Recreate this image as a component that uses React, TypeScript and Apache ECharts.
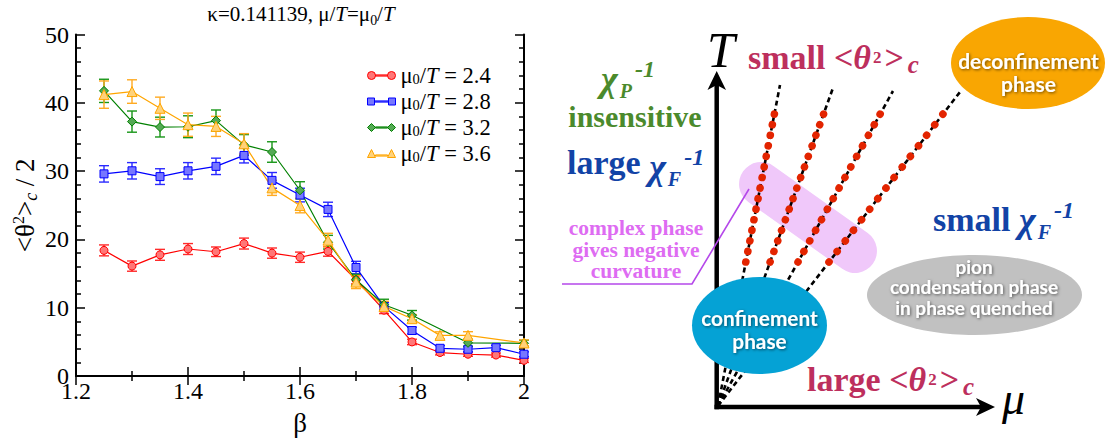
import React, { useEffect, useRef } from 'react';
import * as echarts from 'echarts';

// ---------- left panel data ----------
const betas = [1.25, 1.3, 1.35, 1.4, 1.45, 1.5, 1.55, 1.6, 1.65, 1.7, 1.75, 1.8, 1.85, 1.9, 1.95, 2.0];
const red = [18.4, 16.1, 17.75, 18.6, 18.2, 19.4, 18.0, 17.4, 18.25, 14.1, 9.65, 5.0, 3.45, 3.2, 3.08, 2.3];
const redErr = [0.8, 0.75, 0.8, 0.8, 0.7, 0.8, 0.75, 0.75, 0.7, 0.6, 0.5, 0.4, 0.35, 0.3, 0.3, 0.3];
const blue = [29.6, 30.05, 29.2, 30.05, 30.7, 32.3, 28.65, 26.5, 24.4, 15.9, 10.2, 6.67, 4.07, 3.93, 4.16, 3.2];
const blueErr = [1.2, 1.2, 1.15, 1.2, 1.2, 1.1, 1.15, 1.0, 1.05, 0.9, 0.6, 0.5, 0.4, 0.35, 0.35, 0.35];
const green = [41.75, 37.25, 36.45, 36.5, 37.4, 33.85, 32.8, 27.2, 19.6, 14.1, 10.45, 8.9, null, 4.87, null, 4.8];
const greenErr = [1.7, 1.55, 1.45, 1.6, 1.55, 1.5, 1.5, 1.25, 1.0, 0.8, 0.8, 0.7, null, 0.5, null, 0.45];
const orange = [41.2, 41.65, 39.2, 36.8, 36.55, 34.0, 27.55, 24.96, 19.9, 13.76, 10.2, 8.4, 5.96, 5.96, null, 4.85];
const orangeErr = [2.0, 1.72, 1.63, 1.7, 1.47, 1.49, 1.1, 1.06, 1.0, 0.95, 0.75, 0.6, 0.52, 0.54, null, 0.45];
const seriesNames = ['2.4', '2.8', '3.2', '3.6'];

// ---------- right panel (schematic) data, in a pixel-like coordinate grid ----------
const fanOrigin = [1, 0];
const fanTops = [[63, 321], [116, 318], [176, 315], [243, 314]];
const dotStarts = [[28.8, 144], [53.1, 144], [81, 144], [112, 144]];
const dotEnds = [[57.4, 292], [106.6, 292], [163.2, 292], [226, 292]];
const dotsPerLine = 15;

const SERIF = "'Liberation Serif', 'Times New Roman', serif";
const SANS = "Lato, 'Open Sans', sans-serif";

function errSeries(vals: (number | null)[], errs: (number | null)[], color: string) {
  const data: number[][] = [];
  betas.forEach((b, i) => {
    if (vals[i] != null) data.push([b, vals[i] as number, errs[i] as number]);
  });
  return {
    type: 'custom',
    xAxisIndex: 0,
    yAxisIndex: 0,
    silent: true,
    z: 3,
    data,
    encode: { x: 0, y: 1 },
    renderItem: (_p: any, api: any) => {
      const x = api.value(0), y = api.value(1), e = api.value(2);
      const p1 = api.coord([x, y + e]);
      const p2 = api.coord([x, y - e]);
      const hw = 5;
      const st = { stroke: color, lineWidth: 1.4 };
      return {
        type: 'group',
        children: [
          { type: 'line', shape: { x1: p1[0], y1: p1[1], x2: p2[0], y2: p2[1] }, style: st },
          { type: 'line', shape: { x1: p1[0] - hw, y1: p1[1], x2: p1[0] + hw, y2: p1[1] }, style: st },
          { type: 'line', shape: { x1: p2[0] - hw, y1: p2[1], x2: p2[0] + hw, y2: p2[1] }, style: st },
        ],
      };
    },
  };
}

function lineSeries(name: string, vals: (number | null)[], color: string, fill: string, symbol: string, size: number) {
  const data: number[][] = [];
  betas.forEach((b, i) => {
    if (vals[i] != null) data.push([b, vals[i] as number]);
  });
  return {
    type: 'line',
    name,
    xAxisIndex: 0,
    yAxisIndex: 0,
    z: 4,
    data,
    symbol,
    symbolSize: size,
    showAllSymbol: true,
    itemStyle: { color: fill, borderColor: color, borderWidth: 1 },
    lineStyle: { color, width: 1.2 },
  };
}

function axisCommon() {
  return {
    axisLine: { lineStyle: { color: '#000', width: 2 } },
    axisTick: { inside: true, length: 9, lineStyle: { color: '#000', width: 1.5 } },
    minorTick: { show: true, length: 5, lineStyle: { color: '#000', width: 1.5 } },
    splitLine: { show: false },
    minorSplitLine: { show: false },
  };
}

const legendIcons = {
  circle: 'path://M0,4a4,4 0 1,0 8,0a4,4 0 1,0 -8,0z M8,3.4h12v1.2h-12z M20,4a4,4 0 1,0 8,0a4,4 0 1,0 -8,0z',
  rect: 'path://M0,0.5h7v7h-7z M7,3.4h14v1.2h-14z M21,0.5h7v7h-7z',
  diamond: 'path://M0,4L4,0L8,4L4,8z M8,3.4h12v1.2h-12z M20,4L24,0L28,4L24,8z',
  triangle: 'path://M0,8L4,0L8,8z M8,5.4h12v1.2h-12z M20,8L24,0L28,8z',
};

function buildOption() {
  const GREEN = '#4b8a2c', BLUE = '#1243a6', CRIM = '#bd2f5d', PINK = '#de6cf2';
  const t = (text: string, x: number, y: number, size: number, fill: string, extra: any = {}) => ({
    type: 'text', x, y, z: 60, silent: true,
    style: { text, fill, fontFamily: SERIF, fontSize: size, fontWeight: 'bold', align: 'left', verticalAlign: 'middle', ...extra },
  });
  // chi with sub / superscript, built as one rich text
  const chiRich = (text: string, x: number, y: number, fill: string) => ({
    type: 'text', x, y, z: 60, silent: true,
    style: {
      text, fill, fontFamily: SERIF, fontSize: 34, fontWeight: 'bold', lineHeight: 44,
      align: 'left', verticalAlign: 'middle',
      rich: {
        up: { fontFamily: SERIF, fontSize: 34, fontWeight: 'bold', lineHeight: 37, verticalAlign: 'top' },
        chi: { fontFamily: SERIF, fontSize: 36, fontWeight: 'bold', fontStyle: 'italic', lineHeight: 44, padding: [0, 2, 0, 0] },
        sub: { fontFamily: SERIF, fontSize: 20, fontWeight: 'bold', fontStyle: 'italic', lineHeight: 26, verticalAlign: 'bottom', padding: [0, 3, 0, 0] },
        sup: { fontFamily: SERIF, fontSize: 24, fontWeight: 'bold', fontStyle: 'italic', lineHeight: 22, verticalAlign: 'top' },
      },
    },
  });
  const thetaRich = (text: string, x: number, y: number) => ({
    type: 'text', x, y, z: 60, silent: true,
    style: {
      text, fill: CRIM, fontFamily: SERIF, fontSize: 34, fontWeight: 'bold', lineHeight: 40,
      align: 'left', verticalAlign: 'middle',
      rich: {
        th: { fontFamily: SERIF, fontSize: 34, fontWeight: 'bold', fontStyle: 'italic', lineHeight: 40, padding: [0, 2, 0, 0] },
        two: { fontFamily: SERIF, fontSize: 17, fontWeight: 'bold', lineHeight: 40, padding: [0, 3, 0, 0] },
        c: { fontFamily: SERIF, fontSize: 25, fontWeight: 'bold', fontStyle: 'italic', lineHeight: 28, verticalAlign: 'bottom', padding: [0, 0, 0, 4] },
      },
    },
  });
  const w = (text: string, x: number, y: number, size: number, lh: number) => ({
    type: 'text', x, y, z: 61, silent: true,
    style: {
      text, fill: '#fff', fontFamily: SANS, fontWeight: 'bold', fontSize: size, lineHeight: lh,
      align: 'center', verticalAlign: 'middle',
      textShadowColor: 'rgba(0,0,0,0.55)', textShadowBlur: 3, textShadowOffsetX: 1, textShadowOffsetY: 1,
    },
  });

  const fanSeries = fanTops.map((top) => ({
    type: 'line', xAxisIndex: 2, yAxisIndex: 2, silent: true, z: 2, symbol: 'none',
    data: [fanOrigin, top],
    lineStyle: { color: '#000', width: 2.6, type: [5, 3.5] },
  }));
  const dotSeries = dotStarts.map((s, i) => {
    const e = dotEnds[i];
    const gap = (Math.hypot(e[0] - s[0], e[1] - s[1]) / (dotsPerLine - 1)) * 0.999;
    return {
      type: 'line', xAxisIndex: 2, yAxisIndex: 2, silent: true, z: 3, symbol: 'none',
      data: [s, e],
      lineStyle: { color: '#e32400', width: 7.6, type: [0.01, gap - 0.01], cap: 'round' },
    };
  });

  return {
    animation: false,
    backgroundColor: '#fff',
    legend: {
      orient: 'vertical', left: 362, top: 59, itemWidth: 28, itemHeight: 9, itemGap: 3,
      selectedMode: false,
      data: [
        { name: '2.4', icon: legendIcons.circle, itemStyle: { color: '#ff7777', borderColor: '#ff0000', borderWidth: 1 } },
        { name: '2.8', icon: legendIcons.rect, itemStyle: { color: '#7777ff', borderColor: '#0000ff', borderWidth: 1 } },
        { name: '3.2', icon: legendIcons.diamond, itemStyle: { color: '#55aa55', borderColor: '#008000', borderWidth: 1 } },
        { name: '3.6', icon: legendIcons.triangle, itemStyle: { color: '#ffd27a', borderColor: '#ffa500', borderWidth: 1 } },
      ],
      formatter: (name: string) => `μ{sub|0}/{i|T} = ${name}`,
      textStyle: {
        fontFamily: SERIF, fontSize: 22.5, color: '#000', lineHeight: 22,
        rich: {
          i: { fontStyle: 'italic', fontFamily: SERIF, fontSize: 22.5, lineHeight: 22 },
          sub: { fontFamily: SERIF, fontSize: 14.5, lineHeight: 12, verticalAlign: 'bottom' },
        },
      },
    },
    grid: [
      { left: 76, right: 587, top: 34.5, bottom: 56 },
      { left: 717, right: 0, top: 0, bottom: 37 },
    ],
    xAxis: [
      {
        type: 'value', gridIndex: 0, position: 'bottom', min: 1.2, max: 2.0, interval: 0.2,
        ...axisCommon(),
        minorTick: { ...axisCommon().minorTick, splitNumber: 2 },
        axisLabel: { color: '#000', fontFamily: SERIF, fontSize: 24, margin: 3 },
        name: 'β', nameLocation: 'middle', nameGap: 23,
        nameTextStyle: { fontFamily: SERIF, fontSize: 27, color: '#000', lineHeight: 30 },
      },
      {
        type: 'value', gridIndex: 0, position: 'top', min: 1.2, max: 2.0, interval: 0.2,
        ...axisCommon(),
        minorTick: { ...axisCommon().minorTick, splitNumber: 2 },
        axisLabel: { show: false },
      },
      { type: 'value', gridIndex: 1, min: 0, max: 394, show: false },
    ],
    yAxis: [
      {
        type: 'value', gridIndex: 0, position: 'left', min: 0, max: 50, interval: 10,
        ...axisCommon(),
        minorTick: { ...axisCommon().minorTick, splitNumber: 5 },
        axisLabel: { color: '#000', fontFamily: SERIF, fontSize: 24, margin: 7 },
        name: '<θ{sup|2}>{sub|c} / 2', nameLocation: 'middle', nameRotate: 90, nameGap: 36,
        nameTextStyle: {
          fontFamily: SERIF, fontSize: 27, color: '#000', lineHeight: 30,
          rich: {
            sup: { fontFamily: SERIF, fontSize: 16, lineHeight: 14, verticalAlign: 'top' },
            sub: { fontFamily: SERIF, fontSize: 18, fontStyle: 'italic', lineHeight: 14, verticalAlign: 'bottom' },
          },
        },
      },
      {
        type: 'value', gridIndex: 0, position: 'right', min: 0, max: 50, interval: 10,
        ...axisCommon(),
        minorTick: { ...axisCommon().minorTick, splitNumber: 5 },
        axisLabel: { show: false },
      },
      { type: 'value', gridIndex: 1, min: 0, max: 406, show: false },
    ],
    series: [
      errSeries(red, redErr, '#ff2a2a'),
      lineSeries(seriesNames[0], red, '#ff0000', '#ff7777', 'circle', 8),
      errSeries(blue, blueErr, '#2a2aff'),
      lineSeries(seriesNames[1], blue, '#0000ff', '#7777ff', 'rect', 8),
      errSeries(green, greenErr, '#189618'),
      lineSeries(seriesNames[2], green, '#008000', '#55aa55', 'diamond', 9),
      errSeries(orange, orangeErr, '#ffaa22'),
      lineSeries(seriesNames[3], orange, '#ffa500', '#ffd27a', 'triangle', 10),
      ...fanSeries,
      ...dotSeries,
    ],
    graphic: [
      // title of the left panel
      {
        type: 'text', x: 301, y: 14, z: 60, silent: true,
        style: {
          text: 'κ=0.141139, μ/{i|T}=μ{sub|0}/{i|T}',
          fill: '#000', fontFamily: SERIF, fontSize: 21, lineHeight: 26, align: 'center', verticalAlign: 'middle',
          rich: {
            i: { fontStyle: 'italic', fontFamily: SERIF, fontSize: 21, lineHeight: 26 },
            sub: { fontFamily: SERIF, fontSize: 14, lineHeight: 15, verticalAlign: 'bottom' },
          },
        },
      },
      // pink band
      {
        type: 'rect', x: 808, y: 217.5, rotation: -0.619, z: 1, silent: true,
        shape: { x: -79.7, y: -22, width: 159.4, height: 44, r: 22 },
        style: { fill: '#f0c8fa' },
      },
      // axes
      { type: 'line', z: 4, silent: true, shape: { x1: 716.7, y1: 84, x2: 716.7, y2: 409.2 }, style: { stroke: '#000', lineWidth: 4.5 } },
      { type: 'polygon', z: 4, silent: true, shape: { points: [[716.7, 71], [707.5, 90], [716.7, 85], [726, 90]] }, style: { fill: '#000' } },
      { type: 'line', z: 4, silent: true, shape: { x1: 714.5, y1: 407, x2: 983, y2: 407 }, style: { stroke: '#000', lineWidth: 4.5 } },
      { type: 'polygon', z: 4, silent: true, shape: { points: [[995, 407], [976, 398], [981, 407], [976, 416]] }, style: { fill: '#000' } },
      // purple pointer
      { type: 'polyline', z: 5, silent: true, shape: { points: [[562, 284], [692, 284], [749, 189]] }, style: { stroke: '#b548ea', lineWidth: 1.6, fill: 'none' } },
      // ellipses
      { type: 'ellipse', z: 50, silent: true, shape: { cx: 1028, cy: 63, rx: 77, ry: 46 }, style: { fill: '#f9a602' } },
      { type: 'ellipse', z: 50, silent: true, shape: { cx: 759.5, cy: 325.5, rx: 67.5, ry: 48.5 }, style: { fill: '#05a2d5' } },
      { type: 'ellipse', z: 50, silent: true, shape: { cx: 974.5, cy: 295, rx: 107.5, ry: 40 }, style: { fill: '#c1c1c1' } },
      w('deconfinement\nphase', 1028.5, 72, 21, 23),
      w('confinement\nphase', 759.5, 329, 20.8, 23),
      w('pion\ncondensation phase\nin phase quenched', 974, 286.5, 19, 20.5),
      // axis letters
      t('T', 721, 50, 50, '#000', { fontWeight: 'normal', fontStyle: 'italic', align: 'center' }),
      t('μ', 1002, 398, 46, '#000', { fontWeight: 'normal', fontStyle: 'italic' }),
      // green
      chiRich('{chi|χ}{sub|P}{sup|-1}', 601, 79, GREEN),
      t('insensitive', 635, 116.6, 30, GREEN, { align: 'center' }),
      // blue
      chiRich('{up|large} {chi|χ}{sub|F}{sup|-1}', 567, 167, BLUE),
      chiRich('small {chi|χ}{sub|F}{sup|-1}', 933, 219.5, BLUE),
      // crimson
      thetaRich('small <{th|θ}{two|2}>{c|c}', 748, 57),
      thetaRich('large <{th|θ}{two|2}>{c|c}', 807, 379),
      // pink note
      t('complex phase\ngives negative\ncurvature', 636, 249.5, 21.5, PINK, { align: 'center', lineHeight: 21.7 }),
    ],
  };
}

export default function App() {
  const ref = useRef<HTMLDivElement>(null);
  useEffect(() => {
    document.body.style.margin = '0';
    const chart = echarts.init(ref.current as HTMLDivElement, null, { renderer: 'svg' });
    chart.setOption(buildOption() as any);
    return () => chart.dispose();
  }, []);
  return <div ref={ref} style={{ width: 1111, height: 443 }} />;
}
